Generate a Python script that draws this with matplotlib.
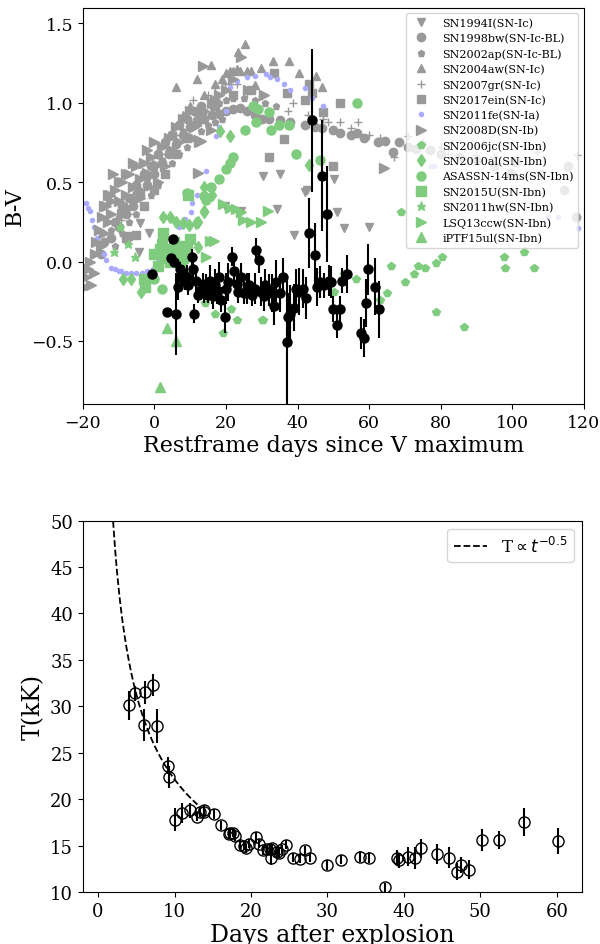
import numpy as np
import matplotlib
matplotlib.use('Agg')
from matplotlib import pyplot as plt

plt.rcParams['font.family'] = 'DejaVu Serif'

GRAY = '#999999'
GREEN = '#7fcc7f'
BLUE = '#aaaaff'

# ---- top panel: B-V colour of comparison SNe ----
sn1994i_x = [-4.2, -3.9, -1.4, 19.6, 24.3, 30.4, 34.4, 35.2, 39.1, 42.2, 42.7, 50.3, 51.1, 53.1, 60.1]
sn1994i_y = [0.06, 0.24, 0.18, 0.35, 0.32, 0.54, 0.33, 0.55, 0.17, 0.44, 0.45, 0.52, 0.31, 0.21, 0.22]

sn1998bw_x = [-15, -14, -12, -11, -10, -9, -8, -7, -6, -5, -4, -3, -2, -1, 0, 1, 2, 3, 4, 5, 6, 7,
              8, 9, 10, 11, 12, 13, 14, 16, 18, 20, 22, 24, 26, 28, 30, 32, 35, 38, 42, 45, 46.9,
              50, 52, 55, 56.7, 58.7, 62.6, 64.5, 66.8, 68.4, 71, 73, 77, 80, 85, 90, 95, 99.7,
              101, 108, 114.5, 115.6, 117.9]
sn1998bw_y = [0.05, 0.12, 0.15, 0.25, 0.22, 0.35, 0.30, 0.40, 0.35, 0.48, 0.42, 0.55, 0.48, 0.60,
              0.55, 0.68, 0.62, 0.75, 0.68, 0.80, 0.74, 0.86, 0.80, 0.90, 0.85, 0.95, 0.88, 0.98,
              0.90, 0.92, 0.93, 0.95, 0.96, 0.97, 0.95, 0.92, 0.90, 0.90, 0.89, 0.88, 0.86, 0.85,
              0.84, 0.83, 0.81, 0.80, 0.81, 0.78, 0.75, 0.76, 0.69, 0.75, 0.72, 0.71, 0.70, 0.68,
              0.66, 0.64, 0.60, 0.56, 0.63, 0.55, 0.45, 0.60, 0.28]

sn2002ap_x = [-12, -11, -10, -9, -8, -7, -6, -5, -4, -3, -2, -1, 0, 1, 2, 3, 4, 5, 6, 7, 8, 9, 10,
              11, 12, 13, 14, 15, 16, 17, 18, 19, 20, 22, 25, 28, 31, 34]
sn2002ap_y = [0.20, 0.10, 0.28, 0.18, 0.33, 0.25, 0.40, 0.30, 0.45, 0.35, 0.52, 0.42, 0.58, 0.48,
              0.64, 0.55, 0.70, 0.62, 0.76, 0.68, 0.82, 0.72, 0.87, 0.78, 0.92, 0.82, 0.95, 0.86,
              0.98, 0.88, 1.00, 0.90, 1.02, 1.03, 1.03, 1.02, 1.00, 0.98]

sn2004aw_x = [-8, -5, -2, 1, 4, 6.1, 8, 10, 12, 14, 15.9, 17, 19, 20, 21, 22, 23, 23.5, 24, 25.4,
              26, 27, 28, 29.9, 33.2, 37.7, 40.5, 45.3, 46.9]
sn2004aw_y = [0.35, 0.45, 0.55, 0.68, 0.80, 1.10, 0.92, 0.98, 1.15, 1.05, 1.24, 1.12, 1.15, 1.19,
              1.20, 1.20, 1.21, 1.32, 1.20, 1.37, 1.20, 1.20, 1.11, 1.22, 1.26, 1.26, 1.19, 1.17,
              1.10]

sn2007gr_x = [-9.2, -7, -5, -3, 0, 3, 6, 9.2, 10.9, 13, 15, 17, 19.6, 21, 23, 26, 30, 37.4, 38.8,
              43, 47, 48.6, 52, 55, 57, 60, 63, 67, 71, 75, 80, 82, 90, 95, 107, 118]
sn2007gr_y = [0.26, 0.30, 0.38, 0.45, 0.55, 0.68, 0.80, 0.90, 1.02, 0.95, 1.05, 1.10, 1.12, 1.12,
              1.12, 1.06, 1.04, 0.95, 1.00, 0.92, 0.90, 0.88, 0.88, 0.84, 0.88, 0.80, 0.78, 0.66,
              0.79, 0.75, 0.72, 0.68, 0.67, 0.66, 0.69, 0.67]

sn2017ein_x = [-8, -7.3, -5, -3, 0, 3, 6, 9, 12, 17, 22, 27, 32.1, 33.5, 36.3, 37, 42.2, 43.3,
               44.1, 47.2, 50, 52]
sn2017ein_y = [0.15, 0.16, 0.17, 0.35, 0.45, 0.55, 0.68, 0.78, 0.88, 0.98, 1.05, 1.08, 0.66, 1.19,
               0.77, 1.06, 1.02, 1.12, 1.06, 0.94, 0.60, 1.00]

sn2011fe_x = [-19, -18.5, -18, -17.5, -17, -16, -15, -14, -13.4, -12, -11, -10, -9.2, -8, -6.4, -5,
              -3.5, -2, -0.5, 1, 3, 5, 7, 8.5, 10.3, 10.6, 12, 14.5, 17.3, 18, 20.1, 21.2, 23, 26,
              28, 31.3, 32.3, 34.4, 36.3, 38, 42.2, 44, 47, 77.4, 78.2, 110, 112.8, 118.4]
sn2011fe_y = [0.37, 0.34, 0.32, 0.26, 0.22, 0.15, 0.10, 0.05, 0.01, -0.04, -0.05, -0.06, -0.06,
              -0.07, -0.07, -0.07, -0.07, -0.06, -0.05, 0.00, 0.05, 0.14, 0.22, 0.27, 0.31, 0.37,
              0.42, 0.57, 0.79, 0.85, 0.95, 1.10, 1.14, 1.16, 1.17, 1.18, 1.16, 1.15, 1.12, 1.08,
              1.09, 1.03, 0.98, 0.60, 0.60, 0.28, 0.28, 0.21]

sn2008d_x = [-19.5, -19, -18.5, -18, -17.6, -17, -16.5, -16.2, -15.5, -15, -14.5, -14, -14, -13.5,
             -13, -13, -12.5, -12, -12, -11.5, -11, -10, -10, -9, -9, -8, -8, -7, -6, -6, -5, -4,
             -4, -3, -2, -2, -1, 0, 0.6, 1, 2, 3, 4, 5, 6, 7, 8, 9, 10, 11, 12.3, 12.6, 13.1,
             13.7, 14, 15.9, 16, 17, 18, 20, 22, 24.3, 26.3, 30.7, 64.2]
sn2008d_y = [-0.16, -0.10, -0.05, 0.00, -0.15, -0.07, 0.05, 0.12, 0.20, 0.10, 0.28, 0.18, 0.35,
             0.35, 0.25, 0.42, 0.42, 0.30, 0.38, 0.55, 0.45, 0.38, 0.50, 0.50, 0.30, 0.42, 0.55,
             0.55, 0.47, 0.62, 0.60, 0.52, 0.40, 0.62, 0.56, 0.70, 0.66, 0.75, 0.61, 0.50, 0.72,
             0.60, 0.78, 0.70, 0.85, 0.75, 0.90, 0.80, 0.95, 0.85, 0.56, 0.75, 0.76, 1.23, 0.95,
             0.83, 1.00, 1.02, 1.05, 1.08, 1.15, 1.29, 1.08, 1.05, 0.59]

sn2006jc_x = [14.2, 17, 19.3, 21.5, 23.2, 30.2, 30.4, 50.3, 53, 56.4, 63, 65, 66, 69, 70, 72.6,
              73.7, 75.5, 78.8, 78.8, 80.4, 86.6, 97.8, 98, 103.4, 106]
sn2006jc_y = [-0.26, -0.33, -0.45, -0.30, -0.37, -0.37, -0.37, -0.19, -0.08, -0.11, -0.24, -0.20,
              -0.03, 0.31, -0.13, -0.08, -0.03, -0.04, -0.01, -0.32, 0.03, -0.41, 0.03, -0.04,
              0.06, -0.04]

sn2010al_x = [-8.7, -6.4, -3.6, 2.5, 4.3, 6.1, 8, 9.8, 11.5, 12.3, 12.3, 14, 14, 14, 16, 18.4, 21,
              43.3]
sn2010al_y = [-0.11, -0.11, -0.19, 0.28, 0.28, 0.25, 0.24, 0.23, 0.24, 0.25, 0.09, 0.31, 0.47,
              0.32, 0.42, 0.82, 0.79, 0.61]

asassn14ms_x = [0, 2, 9.2, 14, 14.5, 15.9, 18, 20, 21, 22, 25.4, 27.7, 28.5, 29, 32, 32.5, 34.9,
                37.5, 39.7, 46.4, 56.7]
asassn14ms_y = [-0.11, -0.17, 0.43, 0.41, 0.39, 0.47, 0.52, 0.58, 0.62, 0.66, 0.83, 0.98, 0.88,
                0.96, 0.94, 0.83, 0.86, 0.86, 0.68, 0.64, 1.00]

sn2015u_x = [-2.8, -2.5, 0, 1, 1.5, 2, 2.5, 3, 3.5, 4.5, 5, 5.5, 6, 7, 7.5, 8, 9, 9.5, 10]
sn2015u_y = [-0.11, -0.16, 0.05, -0.03, 0.08, 0.11, 0.18, 0.02, 0.08, 0.00, 0.06, 0.12, 0.05,
             0.10, 0.0, 0.02, 0.08, 0.42, 0.14]

sn2011hw_x = [-11.4, -9.5, -7.3, -5.3]
sn2011hw_y = [0.06, 0.22, 0.11, 0.03]

lsq13ccw_x = [14.5, 15.5, 16.8, 19.3, 21, 22.9, 24.3, 24.9, 27, 29.9, 31.8]
lsq13ccw_y = [0.03, 0.13, 0.13, 0.36, 0.34, 0.33, 0.31, 0.26, 0.25, 0.25, 0.32]

iptf15ul_x = [1.7, 3.4, 6.1]
iptf15ul_y = [-0.79, -0.42, -0.50]

# our object, B-V with errors
obj_x = [-0.6, 3.4, 4.7, 5.3, 5.5, 6.1, 6.7, 7.2, 7.5, 8, 8.5, 9, 9.5, 10.6, 10.8, 11.2, 11.5,
         12.3, 13, 13.5, 14, 14.5, 15, 15.5, 16, 16.5, 17, 17.5, 18, 18.5, 19.6, 20, 20.5, 21.8,
         22.3, 23, 23.5, 24.2, 25, 25.8, 26.5, 27.3, 28, 28.5, 29.3, 29.8, 30.5, 31, 32, 32.8,
         33.5, 34, 35, 36, 37.2, 37.4, 38, 39.1, 39.5, 40.5, 41.5, 42.5, 43.3, 44.1, 45, 45.5,
         46.2, 46.9, 47.5, 48.3, 48.8, 49.3, 50, 51.1, 51.8, 52.5, 53.9, 57.8, 58.7, 59, 59.8,
         61.7, 62.8]
obj_y = [-0.08, -0.32, 0.02, 0.14, 0.00, -0.33, -0.16, -0.05, -0.10, -0.07, -0.12, -0.10, -0.15,
         0.03, -0.05, -0.33, -0.12, -0.21, -0.18, -0.14, -0.20, -0.16, -0.21, -0.12, -0.19, -0.22,
         -0.15, -0.20, -0.10, -0.24, -0.35, -0.17, -0.13, 0.03, -0.06, -0.14, -0.19, -0.10, -0.20,
         -0.17, -0.15, -0.21, -0.17, 0.07, 0.01, -0.19, -0.22, -0.15, -0.18, -0.20, -0.28, -0.13,
         -0.20, -0.10, -0.51, -0.35, -0.33, -0.29, -0.17, -0.19, -0.17, -0.23, 0.18, 0.89, 0.04,
         -0.16, -0.13, 0.54, -0.15, 0.30, -0.12, -0.13, -0.30, -0.40, -0.30, -0.12, -0.08, -0.45,
         -0.48, -0.26, -0.05, -0.16, -0.30]
obj_err = [0.02, 0.03, 0.03, 0.03, 0.03, 0.26, 0.08, 0.05, 0.05, 0.05, 0.06, 0.08, 0.06, 0.05,
           0.06, 0.06, 0.08, 0.05, 0.06, 0.07, 0.06, 0.08, 0.05, 0.10, 0.08, 0.08, 0.10, 0.07,
           0.10, 0.08, 0.10, 0.10, 0.12, 0.06, 0.10, 0.08, 0.07, 0.09, 0.07, 0.10, 0.08, 0.07,
           0.10, 0.08, 0.08, 0.09, 0.09, 0.10, 0.10, 0.12, 0.12, 0.14, 0.12, 0.12, 0.40, 0.15,
           0.18, 0.15, 0.12, 0.15, 0.12, 0.13, 0.22, 0.45, 0.20, 0.12, 0.10, 0.35, 0.08, 0.30,
           0.10, 0.10, 0.08, 0.08, 0.08, 0.08, 0.12, 0.10, 0.12, 0.15, 0.16, 0.18, 0.18]

# ---- bottom panel: temperature ----
t_days = [4.0, 4.8, 6.2, 7.2, 6.0, 7.7, 9.2, 9.3, 10.1, 11.0, 12.0, 13.0, 13.3, 13.8, 13.9, 15.2,
          16.1, 17.1, 17.3, 17.6, 17.9, 18.6, 19.1, 19.3, 19.7, 20.6, 21.0, 21.6, 22.1, 22.5,
          22.6, 22.8, 23.4, 23.6, 24.1, 24.6, 25.5, 26.4, 27.1, 27.7, 30.0, 31.8, 34.2, 35.5,
          37.5, 39.1, 39.3, 40.6, 41.4, 42.3, 44.3, 45.9, 47.0, 47.5, 48.5, 50.2, 52.4, 55.7, 60.2]
temp_kk = [30.1, 31.4, 31.5, 32.3, 28.0, 27.9, 23.6, 22.4, 17.8, 18.5, 18.8, 18.1, 18.6, 18.8,
           18.6, 18.4, 17.2, 16.3, 16.4, 16.4, 16.0, 15.1, 15.0, 14.7, 15.2, 15.9, 15.2, 14.5,
           14.6, 14.6, 13.7, 14.7, 14.3, 14.2, 14.6, 15.1, 13.7, 13.6, 14.5, 13.7, 12.9, 13.5,
           13.8, 13.7, 10.5, 13.7, 13.4, 13.8, 13.7, 14.7, 14.1, 13.7, 12.2, 12.9, 12.4, 15.6,
           15.6, 17.5, 15.5]
temp_err = [1.6, 0.8, 1.2, 1.2, 1.7, 1.8, 0.9, 1.2, 1.2, 1.1, 0.8, 0.5, 0.5, 0.6, 0.5, 0.5, 0.5,
            0.5, 0.5, 0.5, 0.5, 0.5, 0.5, 0.5, 0.5, 0.6, 0.5, 0.5, 0.5, 0.5, 0.8, 0.5, 0.5, 0.5,
            0.5, 0.5, 0.5, 0.5, 0.5, 0.5, 0.5, 0.5, 0.6, 0.6, 0.5, 0.8, 0.8, 1.0, 1.2, 1.0, 1.1,
            1.1, 0.9, 0.9, 1.0, 1.2, 1.0, 1.5, 1.4]
t_model_norm = 70.0

comparisons = [
    (sn1994i_x, sn1994i_y, 'v', GRAY, 6, 'SN1994I(SN-Ic)'),
    (sn1998bw_x, sn1998bw_y, 'o', GRAY, 6, 'SN1998bw(SN-Ic-BL)'),
    (sn2002ap_x, sn2002ap_y, 'p', GRAY, 5, 'SN2002ap(SN-Ic-BL)'),
    (sn2004aw_x, sn2004aw_y, '^', GRAY, 6, 'SN2004aw(SN-Ic)'),
    (sn2007gr_x, sn2007gr_y, '+', GRAY, 6, 'SN2007gr(SN-Ic)'),
    (sn2017ein_x, sn2017ein_y, 's', GRAY, 6, 'SN2017ein(SN-Ic)'),
    (sn2011fe_x, sn2011fe_y, '.', BLUE, 6, 'SN2011fe(SN-Ia)'),
    (sn2008d_x, sn2008d_y, '>', GRAY, 6.5, 'SN2008D(SN-Ib)'),
    (sn2006jc_x, sn2006jc_y, 'p', GREEN, 6, 'SN2006jc(SN-Ibn)'),
    (sn2010al_x, sn2010al_y, 'd', GREEN, 6.5, 'SN2010al(SN-Ibn)'),
    (asassn14ms_x, asassn14ms_y, 'o', GREEN, 6.5, 'ASASSN-14ms(SN-Ibn)'),
    (sn2015u_x, sn2015u_y, 's', GREEN, 6.5, 'SN2015U(SN-Ibn)'),
    (sn2011hw_x, sn2011hw_y, '*', GREEN, 6.5, 'SN2011hw(SN-Ibn)'),
    (lsq13ccw_x, lsq13ccw_y, '>', GREEN, 6.5, 'LSQ13ccw(SN-Ibn)'),
    (iptf15ul_x, iptf15ul_y, '^', GREEN, 6.5, 'iPTF15ul(SN-Ibn)'),
]

fig = plt.figure(figsize=(6, 9.45), dpi=100)
ax1 = fig.add_axes([0.138, 0.571, 0.835, 0.420])
ax2 = fig.add_axes([0.138, 0.055, 0.832, 0.393])

for xs, ys, mk, col, ms, lab in comparisons:
    ax1.plot(xs, ys, ls='none', marker=mk, color=col, ms=ms, label=lab)

ax1.errorbar(obj_x, obj_y, yerr=obj_err, fmt='o', color='k', ms=6.5, elinewidth=1.5, zorder=5)

ax1.set_xlim(-20, 120)
ax1.set_ylim(-0.9, 1.6)
ax1.set_xticks([-20, 0, 20, 40, 60, 80, 100, 120])
ax1.set_yticks([-0.5, 0.0, 0.5, 1.0, 1.5])
ax1.tick_params(labelsize=12.5)
ax1.set_xlabel('Restframe days since V maximum', fontsize=16, labelpad=2)
ax1.set_ylabel('B-V', fontsize=16)
ax1.legend(loc='upper right', fontsize=8, labelspacing=0.45, borderpad=0.4,
           handletextpad=0.9)

# model curve T ~ t^-0.5
t_model = np.linspace(1.5, 13.0, 200)
ax2.plot(t_model, t_model_norm * t_model ** -0.5, 'k--', lw=1.3,
         label=r'T$\propto t^{-0.5}$')
ax2.errorbar(t_days, temp_kk, yerr=temp_err, fmt='o', mfc='none', mec='k', ecolor='k',
             ms=8, elinewidth=1.5)

ax2.set_xlim(-2, 63.3)
ax2.set_ylim(10, 50)
ax2.set_xticks([0, 10, 20, 30, 40, 50, 60])
ax2.set_yticks([10, 15, 20, 25, 30, 35, 40, 45, 50])
ax2.tick_params(labelsize=13)
ax2.set_xlabel('Days after explosion', fontsize=17, labelpad=2)
ax2.set_ylabel('T(kK)', fontsize=17)
ax2.legend(loc='upper right', fontsize=12)

fig.savefig('out.png', dpi=100)
